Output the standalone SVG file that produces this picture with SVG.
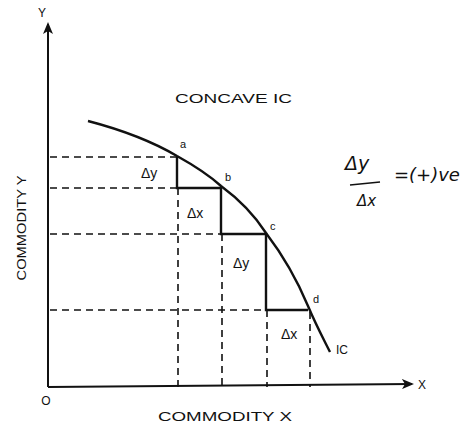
<svg xmlns="http://www.w3.org/2000/svg" width="473" height="427" viewBox="0 0 473 427">
<defs>
<marker id="arr" viewBox="0 0 12 10" refX="10" refY="5" markerWidth="12" markerHeight="10" markerUnits="userSpaceOnUse" orient="auto">
<path d="M0,0 L12,5 L0,10 L3,5 Z" fill="#111"/>
</marker>
</defs>
<style>
text{font-family:"Liberation Sans",Arial,sans-serif;fill:#111}
.lbl{font-size:12px}
.pt{font-size:11px}
.dl{font-size:14px}
.hand{font-family:"DejaVu Sans",sans-serif;font-style:italic}
.dash{stroke:#111;stroke-width:1.6;stroke-dasharray:7,5;fill:none}
.solid{stroke:#111;stroke-width:2.4;fill:none}
.axis{stroke:#111;stroke-width:2;fill:none}
</style>
<rect width="473" height="427" fill="#fff"/>
<g id="connectors">
<line class="axis" x1="48" y1="387" x2="48" y2="24" marker-end="url(#arr)"/>
<line class="axis" x1="48" y1="387" x2="412" y2="384" marker-end="url(#arr)"/>
<path class="dash" d="M50,157 H177 M50,188 H177 M50,234 H221 M50,310 H266"/>
<path class="dash" d="M178,188 V387 M222,234 V387 M267,310 V387 M310,312 V387"/>
<path class="solid" d="M177,157 V188 H221 V234 H266 V310 H308"/>
<path class="solid" d="M88,121 C130,132 160,146 177,156 C195,166 210,176 221,186 C240,200 255,216 266,233 C285,258 298,282 308,306 C316,325 323,338 330,352"/>
</g>
<g id="labels">
<text x="42" y="17" class="lbl" text-anchor="middle">Y</text>
<text x="422" y="389" class="lbl" text-anchor="middle">X</text>
<text x="46" y="405" class="lbl" text-anchor="middle">O</text>
<text x="175" y="103" class="lbl" textLength="117" lengthAdjust="spacingAndGlyphs">CONCAVE  IC</text>
<text x="158" y="421" class="lbl" textLength="134" lengthAdjust="spacingAndGlyphs">COMMODITY  X</text>
<text transform="translate(26,228) rotate(-90)" class="lbl" text-anchor="middle" textLength="105" lengthAdjust="spacingAndGlyphs">COMMODITY  Y</text>
<text x="180" y="148" class="pt">a</text>
<text x="225" y="181" class="pt">b</text>
<text x="270" y="230" class="pt">c</text>
<text x="313" y="303" class="pt">d</text>
<text x="336" y="354" class="lbl">IC</text>
<text x="141" y="178" class="dl">Δy</text>
<text x="187" y="218" class="dl">Δx</text>
<text x="233" y="268" class="dl">Δy</text>
<text x="281" y="339" class="dl">Δx</text>
<text x="345" y="170" class="hand" style="font-size:19px">Δy</text>
<line x1="350" y1="185" x2="380" y2="182" stroke="#111" stroke-width="1.4"/>
<text x="357" y="206" class="hand" style="font-size:15px">Δx</text>
<text x="394" y="181" class="hand" style="font-size:18px">=(+)ve</text>
</g>
</svg>
